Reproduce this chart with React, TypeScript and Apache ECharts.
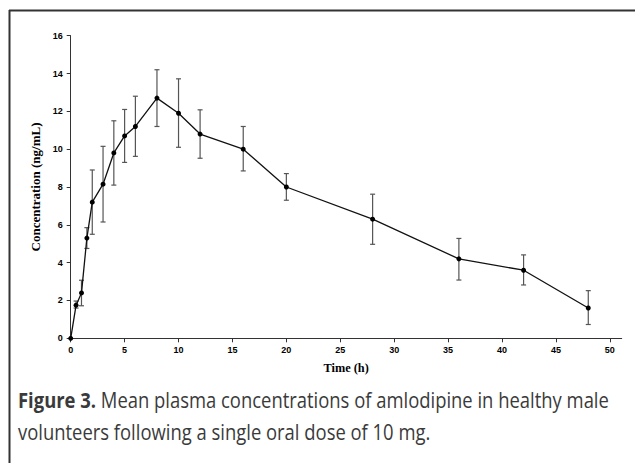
import React, { useEffect, useRef } from "react";
import * as echarts from "echarts";

const times = [0, 0.5, 1, 1.5, 2, 3, 4, 5, 6, 8, 10, 12, 16, 20, 28, 36, 42, 48];
const means = [0, 1.75, 2.4, 5.3, 7.2, 8.15, 9.8, 10.7, 11.2, 12.7, 11.9, 10.8, 10.0, 8.0, 6.3, 4.2, 3.6, 1.6];
const lowers = [0, 1.6, 1.72, 4.75, 5.5, 6.15, 8.1, 9.3, 9.62, 11.2, 10.1, 9.52, 8.85, 7.3, 4.97, 3.08, 2.82, 0.73];
const uppers = [0, 1.97, 3.07, 5.85, 8.9, 10.15, 11.5, 12.1, 12.8, 14.2, 13.72, 12.08, 11.2, 8.71, 7.62, 5.28, 4.41, 2.52];
const xTicks = [0, 5, 10, 15, 20, 25, 30, 35, 40, 45, 50];

const captionBold = "Figure 3.";
const captionLine1 = " Mean plasma concentrations of amlodipine in healthy male";
const captionLine2 = "volunteers following a single oral dose of 10 mg.";

export default function App() {
  const ref = useRef<HTMLDivElement>(null);
  useEffect(() => {
    if (!ref.current) return;
    const chart = echarts.init(ref.current, null, { renderer: "svg" });
    const errData = times
      .map((t, i) => [t, lowers[i], uppers[i]])
      .filter((d) => d[2] > d[1]);
    const tickFont = { fontFamily: "Liberation Sans, Arial, sans-serif", fontWeight: "bold", fontSize: 9, color: "#000" };
    const capFont = "Open Sans, Lato, sans-serif";
    chart.setOption({
      animation: false,
      backgroundColor: "#fff",
      grid: { left: 70.7, right: 13.3, top: 35.7, bottom: 124.7, containLabel: false },
      xAxis: {
        type: "value",
        min: 0,
        max: 51.1,
        name: "Time (h)",
        nameLocation: "middle",
        nameGap: 24,
        nameTextStyle: { fontFamily: "Liberation Serif, Times New Roman, serif", fontWeight: "bold", fontSize: 12.3, color: "#000" },
        axisLine: { show: true, lineStyle: { color: "#333", width: 1 } },
        axisTick: { show: true, length: 4, customValues: xTicks, lineStyle: { color: "#333" } },
        axisLabel: { ...tickFont, margin: 7, customValues: xTicks },
        splitLine: { show: false },
      },
      yAxis: {
        type: "value",
        min: 0,
        max: 16,
        interval: 2,
        name: "Concentration (ng/mL)",
        nameLocation: "middle",
        nameGap: 25,
        nameTextStyle: { fontFamily: "Liberation Serif, Times New Roman, serif", fontWeight: "bold", fontSize: 13, color: "#000" },
        axisLine: { show: true, lineStyle: { color: "#333", width: 1 } },
        axisTick: { show: true, length: 4, lineStyle: { color: "#333" } },
        axisLabel: { ...tickFont, margin: 8 },
        splitLine: { show: false },
      },
      series: [
        {
          type: "custom",
          data: errData,
          z: 1,
          renderItem: (params: any, api: any) => {
            const x = api.value(0);
            const lo = api.coord([x, api.value(1)]);
            const hi = api.coord([x, api.value(2)]);
            const w = 2.5;
            const style = { stroke: "#555", lineWidth: 1.2 };
            return {
              type: "group",
              children: [
                { type: "line", shape: { x1: lo[0], y1: lo[1], x2: hi[0], y2: hi[1] }, style },
                { type: "line", shape: { x1: lo[0] - w, y1: lo[1], x2: lo[0] + w, y2: lo[1] }, style },
                { type: "line", shape: { x1: hi[0] - w, y1: hi[1], x2: hi[0] + w, y2: hi[1] }, style },
              ],
            };
          },
        },
        {
          type: "line",
          z: 2,
          data: times.map((t, i) => [t, means[i]]),
          symbol: "circle",
          symbolSize: 5,
          lineStyle: { color: "#111", width: 1.3 },
          itemStyle: { color: "#000" },
        },
      ],
      graphic: [
        { type: "line", shape: { x1: 9, y1: 10.5, x2: 635, y2: 10.5 }, style: { stroke: "#333", lineWidth: 2 } },
        { type: "line", shape: { x1: 9.5, y1: 10, x2: 9.5, y2: 463 }, style: { stroke: "#333", lineWidth: 2 } },
        {
          type: "text",
          x: 18,
          y: 384,
          scaleX: 0.877,
          style: {
            text: "{b|" + captionBold + "}{r|" + captionLine1 + "}\n{r|" + captionLine2 + "}",
            rich: {
              b: { fontFamily: capFont, fontWeight: "bold", fontSize: 21, fill: "#3a3a3a", lineHeight: 32 },
              r: { fontFamily: capFont, fontSize: 21, fill: "#3a3a3a", lineHeight: 32 },
            },
          },
        },
      ],
    });
    return () => chart.dispose();
  }, []);
  return <div ref={ref} style={{ position: "absolute", left: 0, top: 0, width: 635, height: 463 }} />;
}
